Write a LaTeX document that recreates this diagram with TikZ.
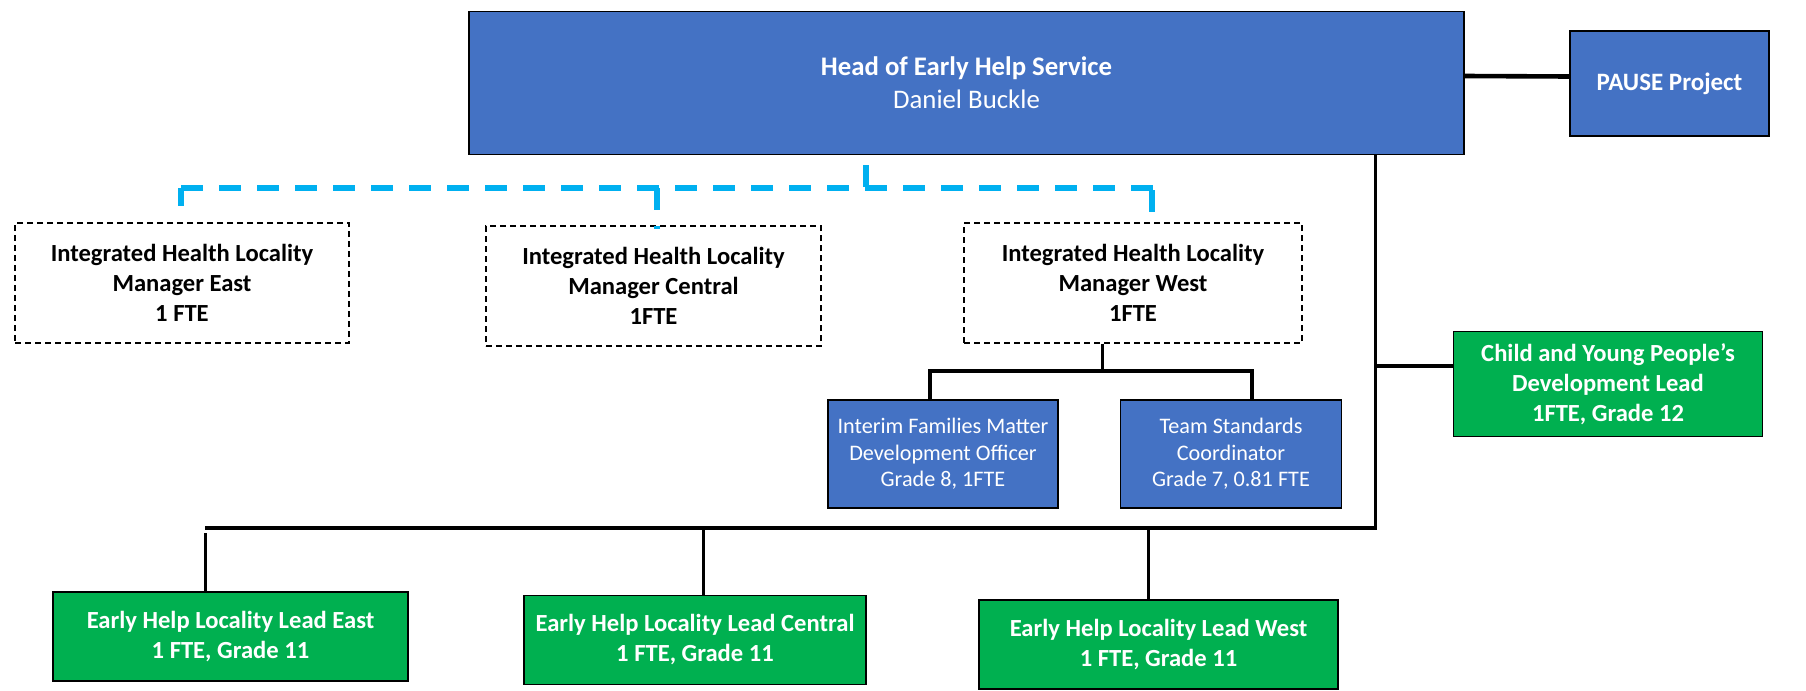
\documentclass[tikz,border=0pt]{standalone}
\usepackage{fontspec}
\setmainfont{Carlito}
\usetikzlibrary{positioning}

\definecolor{headblue}{HTML}{4472C4}
\definecolor{leadgreen}{HTML}{00B050}
\definecolor{linkblue}{HTML}{00B0F0}

\tikzset{
  postbox/.style={draw=black, line width=0.8pt, align=center, inner sep=2pt,
    text=white, font=\bfseries\fontsize{12.3}{15}\selectfont},
  bluebox/.style={postbox, fill=headblue},
  greenbox/.style={postbox, fill=leadgreen},
  vacantbox/.style={postbox, fill=white, text=black, line width=0.6pt,
    dash pattern=on 3pt off 2pt},
  officerbox/.style={bluebox, font=\fontsize{11.1}{13.2}\selectfont},
  solidlink/.style={line width=1.5pt},
  buslink/.style={line width=2.3pt},
  healthlink/.style={draw=linkblue, line width=3pt, dash pattern=on 11pt off 8pt},
}

\begin{document}
\begin{tikzpicture}[x=0.5pt, y=-0.5pt]
  % page frame, in pixels of the chart
  \useasboundingbox (0,0) rectangle (1806,691);

  % head of service and project
  \node[bluebox, minimum width=497.5pt, minimum height=71.5pt,
    font=\fontsize{13.4}{16.5}\selectfont] (head) at (966.5,83)
    {\textbf{Head of Early Help Service}\\Daniel Buckle};
  \node[bluebox, minimum width=99.5pt, minimum height=52.5pt,
    font=\bfseries\fontsize{12.5}{15}\selectfont] (pause) at (1669.5,83.5)
    {PAUSE Project};

  % integrated health managers (vacant, dashed)
  \node[vacantbox, minimum width=167pt, minimum height=60pt] (mgrEast) at (182,283)
    {Integrated Health Locality\\Manager East\\1 FTE};
  \node[vacantbox, minimum width=167.5pt, minimum height=60pt] (mgrCentral) at (653.5,286)
    {Integrated Health Locality\\Manager Central\\1FTE};
  \node[vacantbox, minimum width=169pt, minimum height=60pt] (mgrWest) at (1133,283)
    {Integrated Health Locality\\Manager West\\1FTE};

  % officers under manager west
  \node[officerbox, minimum width=115pt, minimum height=54pt] (interim) at (943,454)
    {Interim Families Matter\\Development Officer\\Grade 8, 1FTE};
  \node[officerbox, minimum width=110.5pt, minimum height=54pt] (team) at (1231,454)
    {Team Standards\\Coordinator\\Grade 7, 0.81 FTE};

  % leads
  \node[greenbox, minimum width=154.5pt, minimum height=52.5pt] (cyp) at (1608,384)
    {Child and Young People's\\Development Lead\\1FTE, Grade 12};
  \node[greenbox, minimum width=177.5pt, minimum height=44.5pt] (ehEast) at (230.5,636.5)
    {Early Help Locality Lead East\\1 FTE, Grade 11};
  \node[greenbox, minimum width=171pt, minimum height=44.5pt] (ehCentral) at (695,640)
    {Early Help Locality Lead Central\\1 FTE, Grade 11};
  \node[greenbox, minimum width=179.5pt, minimum height=44.5pt] (ehWest) at (1158.5,644.5)
    {Early Help Locality Lead West\\1 FTE, Grade 11};

  % line management
  \coordinate (spine) at (1375,528);
  \coordinate (busEnd) at (205,528);
  \coordinate (dropEast) at (205,528);
  \coordinate (dropCentral) at (703,528);
  \coordinate (dropWest) at (1148,528);
  \draw[buslink] ([yshift=3.5pt]head.east) -- ([yshift=3.5pt]pause.west);
  \draw[solidlink] (head.south -| spine) -- (spine);
  \draw[buslink] (busEnd) -- ([xshift=1pt]spine);
  \draw[buslink] ([yshift=9pt]cyp.west -| spine) -- ([yshift=9pt]cyp.west);
  \draw[solidlink] ([yshift=-2.5pt]dropEast) -- (dropEast |- ehEast.north);
  \draw[solidlink] (dropCentral) -- (dropCentral |- ehCentral.north);
  \draw[solidlink] (dropWest) -- (dropWest |- ehWest.north);

  % manager west to officers
  \coordinate (westFork) at (1102,371);
  \coordinate (forkL) at (929.5,371);
  \coordinate (forkR) at (1252,371);
  \draw[solidlink] (mgrWest.south -| westFork) -- (westFork);
  \draw[line width=2pt] (forkL |- interim.north) -- (forkL) -- (forkR) -- (forkR |- team.north);

  % dotted-line links to health managers
  \coordinate (dashTop) at (866,165);
  \coordinate (dashHub) at (866,188);
  \coordinate (dashL) at (181,188);
  \coordinate (dashM) at (656.5,188);
  \coordinate (dashR) at (1166,188);
  \coordinate (dashW) at (1152,190);
  \draw[healthlink] (dashTop) -- (dashHub);
  \draw[healthlink] (dashL) -- (dashR);
  \draw[healthlink, shorten >=8pt] (dashL) -- (dashL |- mgrEast.north);
  \draw[healthlink, shorten >=-2pt] (dashM) -- (dashM |- mgrCentral.north);
  \draw[healthlink, shorten >=2pt] (dashW) -- (dashW |- mgrWest.north);
\end{tikzpicture}
\end{document}
